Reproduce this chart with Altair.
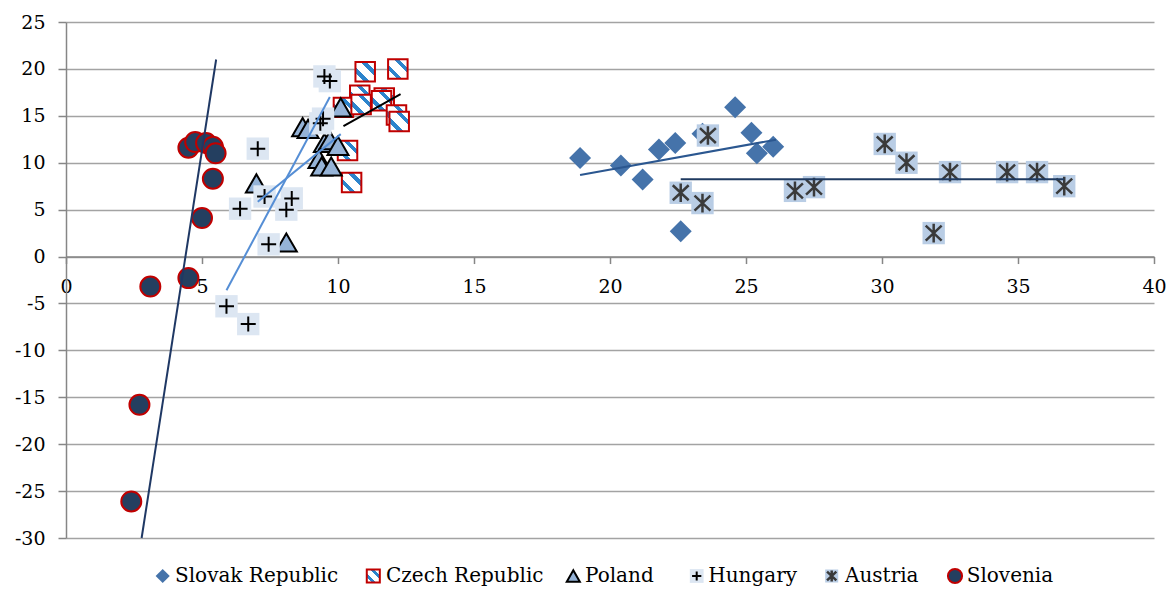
import altair as alt
import pandas as pd

SERIES = ["Slovak Republic", "Czech Republic", "Poland", "Hungary", "Austria", "Slovenia"]

# Slovak Republic
SK_X = [18.9, 20.4, 21.2, 21.8, 22.4, 23.4, 24.6, 25.2, 25.4, 26.0, 22.6]
SK_Y = [10.5, 9.7, 8.2, 11.4, 12.1, 13.1, 15.9, 13.2, 11.0, 11.7, 2.7]
# Czech Republic
CZ_X = [10.8, 11.7, 10.2, 11.0, 12.2, 10.85, 11.6, 12.15, 12.25, 10.35, 10.5]
CZ_Y = [17.2, 16.9, 15.9, 19.7, 20.0, 16.2, 16.6, 15.1, 14.4, 11.3, 7.9]
# Poland
PL_X = [10.1, 8.7, 8.9, 9.5, 9.7, 10.0, 9.3, 9.4, 9.75, 7.0, 8.1]
PL_Y = [15.9, 13.8, 13.6, 12.1, 12.4, 11.8, 10.4, 9.6, 9.6, 7.8, 1.5]
# Hungary
HU_X = [9.5, 9.7, 9.35, 9.45, 7.05, 7.3, 6.4, 8.3, 8.1, 7.45, 5.9, 6.7]
HU_Y = [19.2, 18.7, 14.2, 14.7, 11.5, 6.4, 5.1, 6.2, 5.0, 1.3, -5.3, -7.2]
# Austria
AT_X = [23.6, 22.6, 23.4, 26.8, 27.5, 30.1, 30.9, 32.5, 34.6, 35.7, 36.7, 31.9]
AT_Y = [12.9, 6.8, 5.7, 7.0, 7.4, 12.0, 10.0, 9.0, 9.0, 9.0, 7.5, 2.5]
# Slovenia
SI_X = [2.4, 2.7, 3.1, 4.5, 5.0, 5.4, 4.5, 4.75, 5.15, 5.4, 5.5]
SI_Y = [-26.1, -15.8, -3.2, -2.3, 4.1, 8.3, 11.6, 12.2, 12.1, 11.7, 11.0]

# Linear trend lines (start / end), one per series
TREND_X0 = [18.9, 10.2, 7.05, 5.9, 22.6, 2.78]
TREND_Y0 = [8.7, 13.9, 5.85, -3.6, 8.23, -30.0]
TREND_X1 = [26.1, 12.3, 10.1, 9.7, 36.7, 5.52]
TREND_Y1 = [12.45, 17.3, 13.05, 17.0, 8.23, 21.0]

X_TICKS = list(range(0, 41, 5))
Y_TICKS = list(range(-30, 26, 5))

# ---------------- layout / style ----------------
PAD_L, PAD_T, PAD_R, PAD_B = 58, 14, 14, 48
W, H = 1088, 516
X_DOM, Y_DOM = [0, 40], [-30, 25]
FONT = "DejaVu Serif"
AXIS_GREY = "#868686"
GRID_GREY = "#a3a3a3"
X_AXIS_OFFSET = -H * (0 - Y_DOM[0]) / (Y_DOM[1] - Y_DOM[0])

x_axis = alt.Axis(values=X_TICKS, offset=X_AXIS_OFFSET, grid=False, title=None,
                  domainColor=AXIS_GREY, domainWidth=1.5, tickColor=AXIS_GREY, tickWidth=1.5,
                  tickSize=7, labelPadding=14, labelFont=FONT, labelFontSize=19,
                  labelColor="black", labelFlush=False, labelOverlap=False,
                  labelExpr="'' + datum.value")
y_axis = alt.Axis(values=Y_TICKS, grid=True, gridColor=GRID_GREY, gridWidth=1.4, title=None,
                  domainColor=AXIS_GREY, domainWidth=1.5, tickColor=AXIS_GREY, tickWidth=1.5,
                  tickSize=8, labelPadding=13, labelFont=FONT, labelFontSize=19,
                  labelColor="black", labelFlush=False, labelOverlap=False,
                  labelExpr="'' + datum.value")

XS = alt.Scale(domain=X_DOM, nice=False, zero=False)
YS = alt.Scale(domain=Y_DOM, nice=False, zero=False)


def enc(chart):
    return chart.encode(
        x=alt.X("x:Q", scale=XS, axis=x_axis),
        y=alt.Y("y:Q", scale=YS, axis=y_axis),
    )


def df(xs, ys):
    return pd.DataFrame({"x": xs, "y": ys})


PLUS = "M-1,0H1M0,-1V1"
ASTER = "M0,-1V1M-0.85,-0.8L0.85,0.8M-0.85,0.8L0.85,-0.8"
STRIPE_BLUE = "#2C84CC"
stripes = alt.LinearGradient(
    gradient="linear", x1=0, y1=1, x2=1, y2=0,
    stops=[
        alt.GradientStop(offset=0.0, color="white"),
        alt.GradientStop(offset=0.22, color="white"),
        alt.GradientStop(offset=0.22, color=STRIPE_BLUE),
        alt.GradientStop(offset=0.36, color=STRIPE_BLUE),
        alt.GradientStop(offset=0.36, color="white"),
        alt.GradientStop(offset=0.64, color="white"),
        alt.GradientStop(offset=0.64, color=STRIPE_BLUE),
        alt.GradientStop(offset=0.78, color=STRIPE_BLUE),
        alt.GradientStop(offset=0.78, color="white"),
        alt.GradientStop(offset=1.0, color="white"),
    ],
)

SK_COLOR = "#4573AA"
PL_FILL = "#95B3D7"
HU_BG = "#DCE6F2"
AT_BG = "#B9CDE5"
AT_STAR = "#3A3A3A"
SI_FILL = "#243F60"
RED = "#C00000"
TREND_COLORS = ["#2B5790", "#000000", "#558ED5", "#558ED5", "#1F3A60", "#1F3864"]


def sk_marks(data, s):
    return [alt.Chart(data).mark_point(shape="diamond", filled=True, size=s, color=SK_COLOR, opacity=1)]


def cz_marks(data, s):
    return [alt.Chart(data).mark_point(shape="square", filled=True, size=s, fill=stripes,
                                       stroke=RED, strokeWidth=2, opacity=1)]


def pl_marks(data, s):
    return [alt.Chart(data).mark_point(shape="triangle-up", filled=True, size=s, fill=PL_FILL,
                                       stroke="black", strokeWidth=2, opacity=1)]


def hu_marks(data, s):
    return [alt.Chart(data).mark_point(shape="square", filled=True, size=s, color=HU_BG, opacity=1),
            alt.Chart(data).mark_point(shape=PLUS, filled=False, size=s * 0.45, stroke="black",
                                       strokeWidth=2, opacity=1)]


def at_marks(data, s):
    return [alt.Chart(data).mark_point(shape="square", filled=True, size=s, color=AT_BG, opacity=1),
            alt.Chart(data).mark_point(shape=ASTER, filled=False, size=s * 0.7, stroke=AT_STAR,
                                       strokeWidth=2.5, opacity=1)]


def si_marks(data, s):
    return [alt.Chart(data).mark_point(shape="circle", filled=True, size=s, fill=SI_FILL,
                                       stroke=RED, strokeWidth=2, opacity=1)]


layers = []
for fn, xs, ys, s in [(sk_marks, SK_X, SK_Y, 484), (cz_marks, CZ_X, CZ_Y, 380),
                      (pl_marks, PL_X, PL_Y, 440), (hu_marks, HU_X, HU_Y, 500),
                      (at_marks, AT_X, AT_Y, 500), (si_marks, SI_X, SI_Y, 400)]:
    for m in fn(df(xs, ys), s):
        layers.append(enc(m))

trend = pd.DataFrame({"series": SERIES, "x": TREND_X0, "y": TREND_Y0,
                      "x2": TREND_X1, "y2": TREND_Y1})
layers.append(alt.Chart(trend).mark_rule(strokeWidth=2).encode(
    x=alt.X("x:Q", scale=XS, axis=x_axis),
    y=alt.Y("y:Q", scale=YS, axis=y_axis),
    x2="x2:Q", y2="y2:Q",
    color=alt.Color("series:N", scale=alt.Scale(domain=SERIES, range=TREND_COLORS), legend=None),
))

# ---------------- custom legend (layout positions in page pixels) ----------------
PLOT_LEFT, PLOT_TOP = 8 + PAD_L, 8 + PAD_T
LEG_Y = 576 - PLOT_TOP
LEG_MARK_X = [162.7, 373.3, 573.3, 696.7, 831.7, 955.0]
LEG_TEXT_X = [175.0, 386.0, 585.0, 708.3, 845.0, 966.7]
LEG_FNS = [sk_marks, cz_marks, pl_marks, hu_marks, at_marks, si_marks]
LEG_SIZES = [200, 170, 170, 190, 170, 200]

for i, name in enumerate(SERIES):
    one = pd.DataFrame({"name": [name]})
    for m in LEG_FNS[i](one, LEG_SIZES[i]):
        layers.append(m.encode(x=alt.value(LEG_MARK_X[i] - PLOT_LEFT), y=alt.value(LEG_Y)))
    layers.append(alt.Chart(one).mark_text(align="left", baseline="middle", font=FONT,
                                           fontSize=20, color="black").encode(
        x=alt.value(LEG_TEXT_X[i] - PLOT_LEFT), y=alt.value(LEG_Y), text="name:N"))

chart = alt.layer(*layers).properties(
    width=W, height=H,
    autosize=alt.AutoSizeParams(type="none"),
    padding={"left": PAD_L, "top": PAD_T, "right": PAD_R, "bottom": PAD_B},
).configure_view(strokeWidth=0)

chart.save("out.html", embed_options={"renderer": "svg", "actions": False})
